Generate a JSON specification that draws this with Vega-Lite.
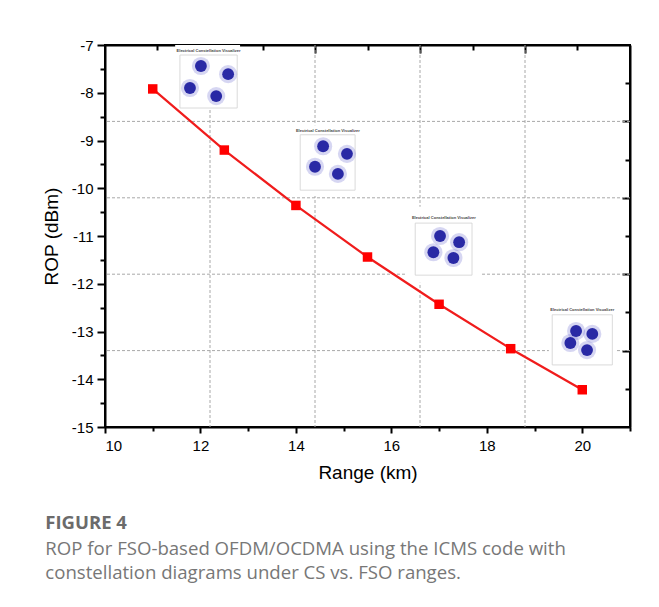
{
  "$schema": "https://vega.github.io/schema/vega-lite/v6.json",
  "width": 525,
  "height": 382,
  "autosize": {"type": "none"},
  "padding": {"left": 105, "top": 45, "right": 29, "bottom": 180},
  "background": "white",
  "config": {
    "view": {"stroke": "black", "strokeWidth": 2},
    "axis": {
      "labelFont": "Liberation Sans",
      "labelFontSize": 15,
      "labelColor": "black",
      "titleFont": "Liberation Sans",
      "titleFontSize": 19,
      "titleFontWeight": "normal",
      "titleColor": "black",
      "domainColor": "black",
      "domainWidth": 2,
      "tickColor": "black",
      "tickWidth": 2,
      "grid": false,
      "zindex": 1
    }
  },
  "title": {
    "text": "FIGURE 4",
    "subtitle": [
      "ROP for FSO-based OFDM/OCDMA using the ICMS code with",
      "constellation diagrams under CS vs. FSO ranges."
    ],
    "orient": "bottom",
    "anchor": "start",
    "frame": "bounds",
    "font": "Open Sans",
    "fontSize": 18.5,
    "fontWeight": "bold",
    "color": "#6b6b6b",
    "subtitleFont": "Open Sans",
    "subtitleFontSize": 18.6,
    "subtitleColor": "#777777",
    "subtitleLineHeight": 24,
    "subtitlePadding": 7,
    "offset": 32,
    "dx": 3
  },
  "datasets": {
    "rop": [
      {"range": 11, "rop": -7.92},
      {"range": 12.5, "rop": -9.2},
      {"range": 14, "rop": -10.36},
      {"range": 15.5, "rop": -11.44},
      {"range": 17, "rop": -12.43},
      {"range": 18.5, "rop": -13.36},
      {"range": 20, "rop": -14.22}
    ],
    "gridx": [{"v": 12.2}, {"v": 14.4}, {"v": 16.6}, {"v": 18.8}],
    "gridy": [{"v": -8.6}, {"v": -10.2}, {"v": -11.8}, {"v": -13.4}],
    "insets": [
      {"id": 1, "bx1": 11.47, "bx2": 12.83, "by1": -7.0, "by2": -8.36, "fx1": 11.57, "fx2": 12.77, "fy1": -7.21, "fy2": -8.32, "tx": 12.17, "ty": -7.13, "title": "Electrical Constellation Visualizer"},
      {"id": 2, "bx1": 13.88, "bx2": 15.56, "by1": -8.68, "by2": -10.16, "fx1": 14.09, "fx2": 15.24, "fy1": -8.88, "fy2": -10.04, "tx": 14.67, "ty": -8.8, "title": "Electrical Constellation Visualizer"},
      {"id": 3, "bx1": 16.29, "bx2": 17.9, "by1": -10.39, "by2": -11.98, "fx1": 16.5, "fx2": 17.69, "fy1": -10.73, "fy2": -11.82, "tx": 17.1, "ty": -10.62, "title": "Electrical Constellation Visualizer"},
      {"id": 4, "bx1": 19.3, "bx2": 20.69, "by1": -12.4, "by2": -13.85, "fx1": 19.37, "fx2": 20.63, "fy1": -12.65, "fy2": -13.7, "tx": 20.0, "ty": -12.55, "title": "Electrical Constellation Visualizer"}
    ],
    "blobs": [
      {"inset": 1, "bx": 12.01, "by": -7.44},
      {"inset": 1, "bx": 12.58, "by": -7.61},
      {"inset": 1, "bx": 11.78, "by": -7.9},
      {"inset": 1, "bx": 12.33, "by": -8.07},
      {"inset": 2, "bx": 14.57, "by": -9.12},
      {"inset": 2, "bx": 15.07, "by": -9.28},
      {"inset": 2, "bx": 14.4, "by": -9.55},
      {"inset": 2, "bx": 14.88, "by": -9.7},
      {"inset": 3, "bx": 17.02, "by": -11.0},
      {"inset": 3, "bx": 17.42, "by": -11.13},
      {"inset": 3, "bx": 16.88, "by": -11.34},
      {"inset": 3, "bx": 17.3, "by": -11.46},
      {"inset": 4, "bx": 19.87, "by": -12.99},
      {"inset": 4, "bx": 20.21, "by": -13.05},
      {"inset": 4, "bx": 19.75, "by": -13.24},
      {"inset": 4, "bx": 20.1, "by": -13.39}
    ]
  },
  "layer": [
    {
      "data": {"name": "gridx"},
      "mark": {"type": "rule", "color": "#a8a8a8", "strokeWidth": 1, "strokeDash": [3, 2]},
      "encoding": {
        "x": {
          "field": "v", "type": "quantitative",
          "scale": {"domain": [10, 21], "nice": false, "zero": false},
          "axis": {
            "orient": "top",
            "values": [11.1, 12.2, 13.3, 14.4, 15.5, 16.6, 17.7, 18.8, 19.9],
            "labels": false,
            "title": null,
            "tickSize": {"condition": {"test": "round((datum.value-10)*10) % 22 === 0", "value": -8}, "value": -5}
          }
        }
      }
    },
    {
      "data": {"name": "gridy"},
      "mark": {"type": "rule", "color": "#a8a8a8", "strokeWidth": 1, "strokeDash": [3, 2]},
      "encoding": {
        "y": {
          "field": "v", "type": "quantitative",
          "scale": {"domain": [-15, -7], "nice": false, "zero": false},
          "axis": {
            "orient": "right",
            "values": [-7.8, -8.6, -9.4, -10.2, -11.0, -11.8, -12.6, -13.4, -14.2],
            "labels": false,
            "title": null,
            "tickSize": {"condition": {"test": "round((datum.value+7)*10) % 16 === 0", "value": -8}, "value": -5}
          }
        }
      }
    },
    {
      "data": {"name": "insets"},
      "mark": {"type": "rect", "fill": "white", "stroke": null},
      "encoding": {
        "x": {"field": "bx1", "type": "quantitative", "axis": null},
        "x2": {"field": "bx2"},
        "y": {"field": "by1", "type": "quantitative", "axis": null},
        "y2": {"field": "by2"}
      }
    },
    {
      "data": {"name": "insets"},
      "mark": {"type": "rect", "fill": "white", "stroke": "#d0d0d0", "strokeWidth": 0.8},
      "encoding": {
        "x": {"field": "fx1", "type": "quantitative", "axis": null},
        "x2": {"field": "fx2"},
        "y": {"field": "fy1", "type": "quantitative", "axis": null},
        "y2": {"field": "fy2"}
      }
    },
    {
      "data": {"name": "insets"},
      "mark": {"type": "text", "font": "Liberation Sans", "fontSize": 4, "fontWeight": "bold", "color": "#444444"},
      "encoding": {
        "x": {"field": "tx", "type": "quantitative", "axis": null},
        "y": {"field": "ty", "type": "quantitative", "axis": null},
        "text": {"field": "title"}
      }
    },
    {
      "data": {"name": "blobs"},
      "mark": {"type": "circle", "color": "#3434c0", "opacity": 0.2, "size": 330},
      "encoding": {
        "x": {"field": "bx", "type": "quantitative", "axis": null},
        "y": {"field": "by", "type": "quantitative", "axis": null}
      }
    },
    {
      "data": {"name": "blobs"},
      "mark": {"type": "circle", "color": "#1a1a9e", "opacity": 0.92, "size": 140},
      "encoding": {
        "x": {"field": "bx", "type": "quantitative", "axis": null},
        "y": {"field": "by", "type": "quantitative", "axis": null}
      }
    },
    {
      "data": {"name": "rop"},
      "mark": {"type": "line", "color": "#f01c1c", "strokeWidth": 2.2},
      "encoding": {
        "x": {
          "field": "range", "type": "quantitative",
          "scale": {"domain": [10, 21], "nice": false, "zero": false},
          "axis": {
            "orient": "bottom",
            "title": "Range (km)",
            "values": [10, 11, 12, 13, 14, 15, 16, 17, 18, 19, 20, 21],
            "labelExpr": "datum.value % 2 === 0 ? '' + datum.value : ''",
            "tickSize": {"condition": {"test": "datum.value % 2 === 0", "value": 6}, "value": 4},
            "labelPadding": 5,
            "titlePadding": 10
          }
        },
        "y": {
          "field": "rop", "type": "quantitative",
          "scale": {"domain": [-15, -7], "nice": false, "zero": false},
          "axis": {
            "orient": "left",
            "title": "ROP (dBm)",
            "values": [-15, -14.5, -14, -13.5, -13, -12.5, -12, -11.5, -11, -10.5, -10, -9.5, -9, -8.5, -8, -7.5, -7],
            "labelExpr": "datum.value % 1 === 0 ? '' + datum.value : ''",
            "tickSize": {"condition": {"test": "datum.value % 1 === 0", "value": 8}, "value": 5},
            "labelPadding": 4,
            "titlePadding": 10
          }
        }
      }
    },
    {
      "data": {"name": "rop"},
      "mark": {"type": "square", "color": "#ff0000", "opacity": 1, "size": 90},
      "encoding": {
        "x": {"field": "range", "type": "quantitative", "axis": null},
        "y": {"field": "rop", "type": "quantitative", "axis": null}
      }
    }
  ],
  "resolve": {"axis": {"x": "independent", "y": "independent"}}
}
